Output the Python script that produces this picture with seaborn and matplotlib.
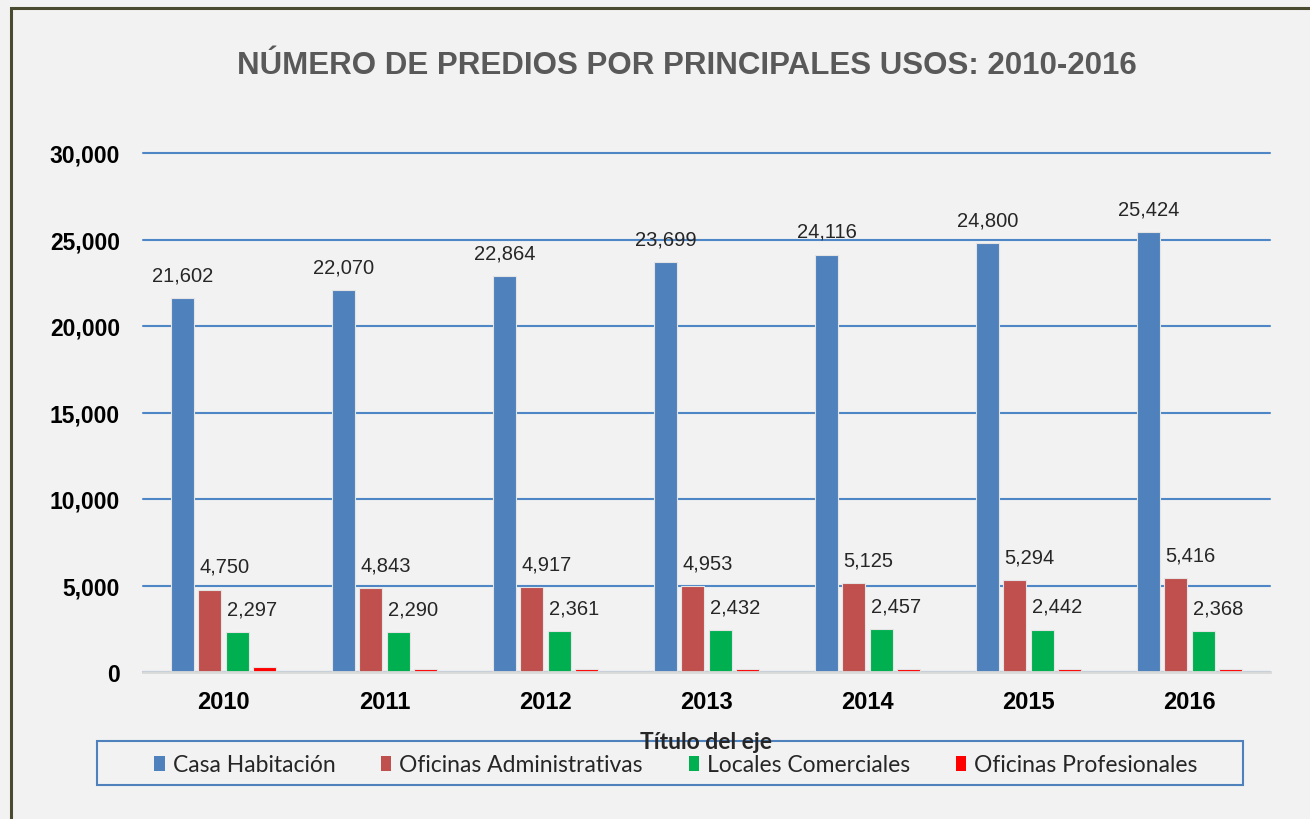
import pandas as pd
import matplotlib.pyplot as plt
import seaborn as sns
from matplotlib.patches import Patch, Rectangle
from matplotlib.ticker import FuncFormatter

# data
years = ['2010', '2011', '2012', '2013', '2014', '2015', '2016']
casa_habitacion = [21602, 22070, 22864, 23699, 24116, 24800, 25424]
oficinas_admin = [4750, 4843, 4917, 4953, 5125, 5294, 5416]
locales_comerciales = [2297, 2290, 2361, 2432, 2457, 2442, 2368]
oficinas_prof = [270, 150, 150, 150, 150, 150, 160]  # no labels in the chart, estimated

series = ['Casa Habitación', 'Oficinas Administrativas', 'Locales Comerciales', 'Oficinas Profesionales']
colors = ['#4F81BD', '#C0504D', '#00B050', '#FF0000']

df = pd.DataFrame({
    'year': years * 4,
    'uso': [s for s in series for _ in years],
    'predios': casa_habitacion + oficinas_admin + locales_comerciales + oficinas_prof,
})

sns.set_style('white')
plt.rcParams['font.family'] = ['Liberation Sans', 'DejaVu Sans']

bg = '#F2F2F2'
fig = plt.figure(figsize=(13.1, 8.2), dpi=100, facecolor=bg)
ax = fig.add_axes([143 / 1310, 147 / 820, 1127 / 1310, 519 / 820])
ax.set_facecolor(bg)

sns.barplot(data=df, x='year', y='predios', hue='uso', hue_order=series,
            palette=dict(zip(series, colors)), width=0.68, gap=0.16,
            edgecolor='#e4e4e4', linewidth=0.8, saturation=1, legend=False, ax=ax)

ax.set_ylim(0, 30000)
ax.set_yticks(range(0, 30001, 5000))
ax.yaxis.set_major_formatter(FuncFormatter(lambda v, p: f'{v:,.0f}'))
ax.set_axisbelow(True)
ax.grid(axis='y', color='#4F86C6', linewidth=1.5)
ax.grid(axis='x', visible=False)
for gl in ax.get_ygridlines():
    gl.set_clip_on(False)
for s in ['left', 'right', 'top']:
    ax.spines[s].set_visible(False)
ax.spines['bottom'].set_color('#D9D9D9')
ax.spines['bottom'].set_linewidth(2)
ax.spines['bottom'].set_zorder(3)
ax.tick_params(axis='both', length=0)
ax.tick_params(axis='y', pad=16.5)
ax.tick_params(axis='x', pad=13)
for lbl in ax.get_yticklabels():
    lbl.set_fontsize(16.5)
    lbl.set_fontweight('bold')
    lbl.set_color('black')
for lbl in ax.get_xticklabels():
    lbl.set_fontsize(17)
    lbl.set_fontweight('bold')
    lbl.set_color('black')
ax.set_xlabel('')
ax.set_ylabel('')

# data labels
for i, cont in enumerate(ax.containers[:3]):
    for bar in cont:
        h = bar.get_height()
        if i == 0:
            ax.annotate(f'{h:,.0f}', (bar.get_x() + bar.get_width() / 2, h),
                        xytext=(0, 10), textcoords='offset points',
                        ha='center', va='bottom', fontsize=14.5)
        else:
            ax.annotate(f'{h:,.0f}', (bar.get_x(), h),
                        xytext=(1, 10), textcoords='offset points',
                        ha='left', va='bottom', fontsize=14.5)

fig.text(687 / 1310, 0.9195, 'NÚMERO DE PREDIOS POR PRINCIPALES USOS: 2010-2016',
         ha='center', va='center', fontsize=22.5, fontweight='bold', color='#595959')

# legend with a blue square frame
fig.patches.append(Rectangle((97 / 1310, 34 / 820), 1146 / 1310, 44 / 820,
                             transform=fig.transFigure, fill=False,
                             edgecolor='#4F81BD', linewidth=1.5))
handles = [Patch(facecolor=c, edgecolor='none') for c in colors]
fig.legend(handles, series, loc='center', bbox_to_anchor=(676 / 1310, 54 / 820),
           ncol=4, frameon=False, handlelength=0.45, handleheight=0.65,
           handletextpad=0.35, columnspacing=2.0,
           prop={'family': ['Lato', 'DejaVu Sans'], 'size': 16.5})

fig.text(706 / 1310, 1 - 743 / 820, 'Título del eje', ha='center', va='center',
         fontsize=16.5, fontweight='bold', family=['Lato', 'DejaVu Sans'], zorder=10)

# outer frame
fig.patches.append(Rectangle((11 / 1310, -0.05), 1.2, 1 - 9 / 820 + 0.05,
                             transform=fig.transFigure, fill=False,
                             edgecolor='#4a4a30', linewidth=2.2))

fig.savefig('out.png', dpi=100, facecolor=bg)
